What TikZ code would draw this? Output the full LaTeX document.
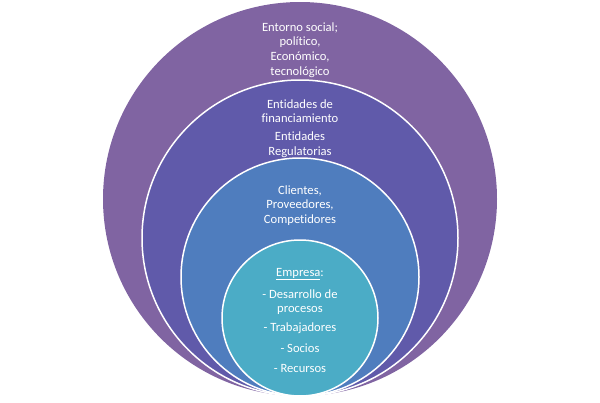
\documentclass[tikz,border=0pt]{standalone}
\usepackage{fontspec}
\setmainfont[Ligatures={NoCommon}]{Carlito}
\usepackage{xcolor}
\definecolor{cOuter}{RGB}{128,100,162}
\definecolor{cSecond}{RGB}{96,90,170}
\definecolor{cThird}{RGB}{79,125,190}
\definecolor{cFourth}{RGB}{75,172,198}
\begin{document}
\begin{tikzpicture}[x=1pt,y=-1pt,
  ring/.style={draw=white,line width=1.5pt},
  lbl/.style={text=white,align=center,font=\fontsize{12.6}{14.6}\selectfont,inner sep=0pt},
  ]
\useasboundingbox (0,0) rectangle (600,402);
\fill[cOuter] (300,199) circle[radius=197];
\node[ring,fill=cSecond,circle,minimum size=316pt,inner sep=0pt] (c2) at (300,238) {};
\node[ring,fill=cThird,circle,minimum size=238pt,inner sep=0pt] (c3) at (300,277) {};
\node[ring,fill=cFourth,circle,minimum size=156pt,inner sep=0pt] (c4) at (300,318) {};
\node[lbl] (t1) at (300,50) {Entorno social;\\político,\\Económico,\\tecnológico};
\node[lbl] (t2a) at (300,111) {Entidades de\\financiamiento};
\node[lbl] (t2b) at (300,145) {Entidades\\Regulatorias};
\node[lbl] (t3) at (300,205.5) {Clientes,\\Proveedores,\\Competidores};
\node[lbl] (t4a) at (300,274) {\underline{Empresa}:};
\node[lbl] (t4b) at (300,302) {- Desarrollo de\\procesos};
\node[lbl] (t4c) at (300,328) {- Trabajadores};
\node[lbl] (t4d) at (300,348) {- Socios};
\node[lbl] (t4e) at (300,368) {- Recursos};
\end{tikzpicture}
\end{document}
